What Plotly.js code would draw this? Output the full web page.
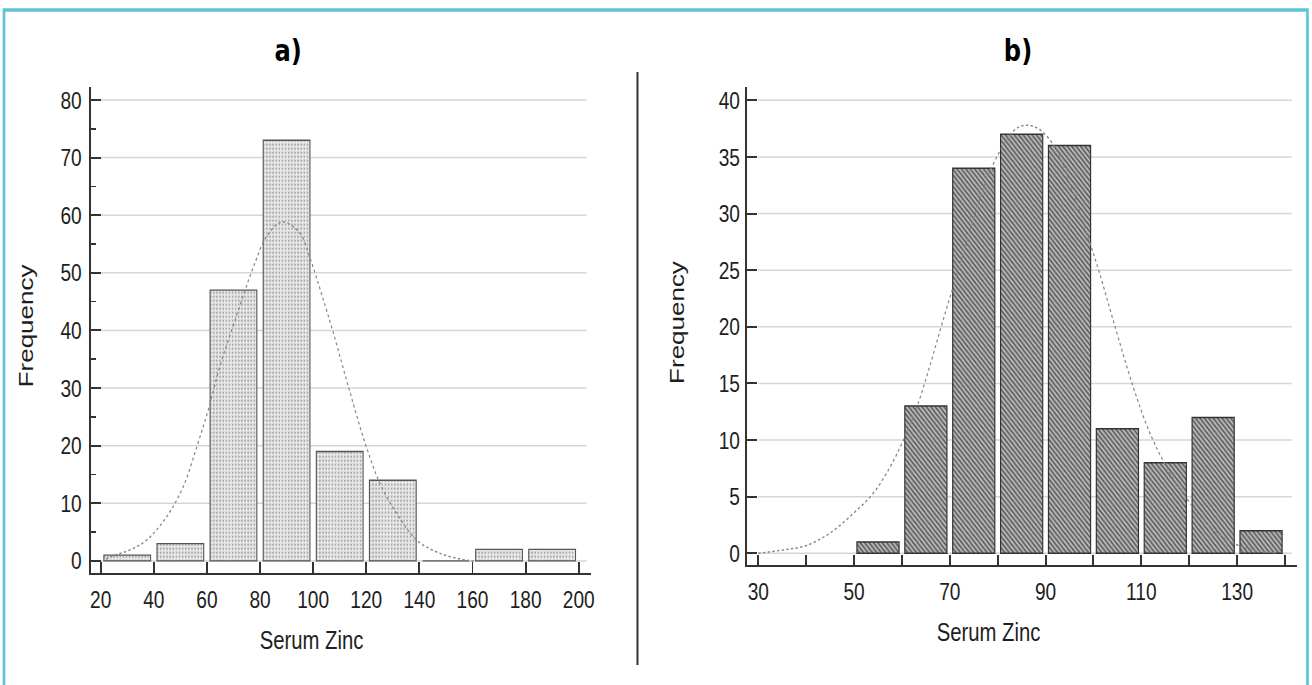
<!DOCTYPE html>
<html>
<head>
<meta charset="utf-8">
<script src="https://cdn.plot.ly/plotly-3.0.1.min.js"></script>
<style>
  html, body { margin: 0; padding: 0; background: #fff; overflow: hidden; }
  #wrap { width: 1312px; height: 685px; overflow: hidden; position: relative; }
  /* the reference figure is horizontally compressed; draw wider and compress the same way */
  #chart { position: absolute; left: 0; top: 0; transform-origin: 0 0; }
</style>
</head>
<body>
<div id="wrap"><div id="chart"></div></div>
<script>
// ---------- Data ----------
// Panel a) Serum Zinc histogram, bin width 20
var binStartA = [20, 40, 60, 80, 100, 120, 140, 160, 180];
var countsA   = [1, 3, 47, 73, 19, 14, 0, 2, 2];
var binWidthA = 20;
// fitted curve a)
var curveAx = [22, 23.5, 31, 37.3, 44.9, 51.1, 56.2, 60.5, 64.9, 69.3, 77.5, 82.5, 88.2, 95, 98.8, 103.2, 107.6, 113.3, 119.6, 125.2, 131.5, 139, 147.8, 157.9, 161];
var curveAy = [0.3, 0.7, 1.9, 3.6, 7.7, 12.9, 19.8, 26.2, 33.8, 40, 51, 56.3, 58.8, 56.9, 52.6, 46.3, 39.6, 30.2, 20.4, 13.4, 8.2, 3.6, 1.3, 0.1, 0];
var yTicksA = [0, 10, 20, 30, 40, 50, 60, 70, 80];
var xTickValsA = [20, 40, 60, 80, 100, 120, 140, 160, 180, 200];
var xTickTextA = ['20', '40', '60', '80', '100', '120', '140', '160', '180', '200'];

// Panel b) Serum Zinc histogram, bin width 10
var binStartB = [50, 60, 70, 80, 90, 100, 110, 120, 130];
var countsB   = [1, 13, 34, 37, 36, 11, 8, 12, 2];
var binWidthB = 10;
var curveBx = [30, 35.2, 40.1, 45, 49.8, 54, 57.5, 60.3, 63.1, 65.8, 68.6, 70.7, 79, 83.9, 86.4, 88.8, 90.9, 93, 95.8, 98.9, 101.3, 104.1, 108.3, 111.8, 115.3, 118.7, 124.3, 129.2, 133.3, 138];
var curveBy = [0, 0.3, 0.7, 1.8, 3.5, 5.3, 7.6, 10, 12.9, 16.5, 20.6, 23.5, 34.3, 37.5, 37.8, 37.4, 36.5, 35, 31.8, 27.9, 24.7, 20.6, 14.7, 10.6, 7.6, 5.3, 2.35, 0.9, 0.3, 0.05];
var yTicksB = [0, 5, 10, 15, 20, 25, 30, 35, 40];
var xTickValsB = [30, 40, 50, 60, 70, 80, 90, 100, 110, 120, 130, 140];
var xTickTextB = ['30', '', '50', '', '70', '', '90', '', '110', '', '130', ''];

var labels = {
  panelA: 'a)', panelB: 'b)',
  xTitle: 'Serum Zinc', yTitle: 'Frequency'
};

// ---------- Helpers ----------
var S = 0.78;               // horizontal compression of the whole figure
var W = 1312, H = 685;      // final picture size
var WP = W / S;             // plotting width before compression
var el = document.getElementById('chart');
el.style.width = WP + 'px';
el.style.height = H + 'px';
el.style.transform = 'scaleX(' + S + ')';

function px(x) { return x / W; }
function py(y) { return 1 - y / H; }
function centers(starts, w) { return starts.map(function (s) { return s + w / 2; }); }

var arial = 'Liberation Sans, Arial, Helvetica, sans-serif';
var tickFont = { family: arial, size: 24.5, color: '#1e1e1e' };
var axisColor = '#333';

var traces = [
  {
    type: 'bar', x: centers(binStartA, binWidthA), y: countsA,
    xaxis: 'x', yaxis: 'y',
    marker: {
      color: '#e4e4e4',
      line: { color: '#555', width: 1.4 },
      pattern: { shape: '.', fgcolor: '#a4a4a4', bgcolor: '#e8e8e8', size: 4, solidity: 0.25 }
    },
    hoverinfo: 'x+y', showlegend: false
  },
  {
    type: 'scatter', mode: 'lines', x: curveAx, y: curveAy,
    xaxis: 'x', yaxis: 'y',
    line: { color: '#858585', width: 1.5, dash: 'dot', shape: 'spline', smoothing: 1 },
    hoverinfo: 'skip', showlegend: false
  },
  {
    type: 'bar', x: centers(binStartB, binWidthB), y: countsB,
    xaxis: 'x2', yaxis: 'y2',
    marker: {
      color: '#9a9a9a',
      line: { color: '#333', width: 1.5 },
      pattern: { shape: '\\', fgcolor: '#555', bgcolor: '#bababa', size: 4, solidity: 0.45 }
    },
    hoverinfo: 'x+y', showlegend: false
  },
  {
    type: 'scatter', mode: 'lines', x: curveBx, y: curveBy,
    xaxis: 'x2', yaxis: 'y2',
    line: { color: '#858585', width: 1.5, dash: 'dot', shape: 'spline', smoothing: 1 },
    hoverinfo: 'skip', showlegend: false
  }
];

// gridlines as shapes (they start slightly right of the y axis in the reference)
var shapes = [];
yTicksA.forEach(function (v) {
  shapes.push({ type: 'line', xref: 'x', yref: 'y', x0: 19.7, x1: 203, y0: v, y1: v,
    line: { color: '#d6d6d6', width: 1.5 }, layer: 'below' });
});
yTicksB.forEach(function (v) {
  shapes.push({ type: 'line', xref: 'x2', yref: 'y2', x0: 30, x1: 141.4, y0: v, y1: v,
    line: { color: '#d6d6d6', width: 1.5 }, layer: 'below' });
});
// page frame (cyan) and vertical divider
shapes.push({ type: 'path', xref: 'paper', yref: 'paper',
  path: 'M ' + px(4) + ' ' + py(690) + ' L ' + px(4) + ' ' + py(10) + ' L ' + px(1307.5) + ' ' + py(10) + ' L ' + px(1307.5) + ' ' + py(690),
  line: { color: '#5cc3d9', width: 3.4 } });
shapes.push({ type: 'line', xref: 'paper', yref: 'paper', x0: px(637.5), x1: px(637.5), y0: py(72), y1: py(665),
  line: { color: '#333', width: 2.6 } });

var titleFont = { family: 'DejaVu Sans, Open Sans, sans-serif', size: 31, color: '#000', weight: 'bold' };
var annotations = [
  { text: labels.panelA, xref: 'paper', yref: 'paper', x: px(288), y: py(50), showarrow: false,
    xanchor: 'center', yanchor: 'middle', font: titleFont },
  { text: labels.panelB, xref: 'paper', yref: 'paper', x: px(1018), y: py(50), showarrow: false,
    xanchor: 'center', yanchor: 'middle', font: titleFont },
  { text: labels.xTitle, xref: 'paper', yref: 'paper', x: px(312), y: py(640), showarrow: false,
    xanchor: 'center', yanchor: 'middle', font: { family: arial, size: 26, color: '#1e1e1e' } },
  { text: labels.xTitle, xref: 'paper', yref: 'paper', x: px(989), y: py(632), showarrow: false,
    xanchor: 'center', yanchor: 'middle', font: { family: arial, size: 26, color: '#1e1e1e' } },
  { text: labels.yTitle, xref: 'paper', yref: 'paper', x: px(26), y: py(326), showarrow: false, textangle: -90,
    xanchor: 'center', yanchor: 'middle', font: { family: arial, size: 26, color: '#1e1e1e' } },
  { text: labels.yTitle, xref: 'paper', yref: 'paper', x: px(677), y: py(322), showarrow: false, textangle: -90,
    xanchor: 'center', yanchor: 'middle', font: { family: arial, size: 26, color: '#1e1e1e' } }
];

var commonX = {
  showgrid: false, zeroline: false, showline: true, linecolor: axisColor, linewidth: 2,
  ticks: 'inside', ticklen: 11, tickwidth: 2.5, tickcolor: axisColor, tickfont: tickFont,
  tickmode: 'array', fixedrange: true
};
var commonY = {
  showgrid: false, zeroline: false, showline: true, linecolor: axisColor, linewidth: 2.5,
  ticks: 'inside', ticklen: 13, tickwidth: 2, tickcolor: axisColor, tickfont: tickFont,
  tickmode: 'array', fixedrange: true
};

var layout = {
  width: WP, height: H,
  margin: { l: 0, r: 0, t: 0, b: 0 },
  paper_bgcolor: '#fff', plot_bgcolor: 'rgba(0,0,0,0)',
  bargap: 0.12,
  xaxis: Object.assign({}, commonX, {
    domain: [px(90.6), px(591.2)], range: [16.2, 204.7], anchor: 'y',
    tickvals: xTickValsA, ticktext: xTickTextA, ticklabelstandoff: 4
  }),
  yaxis: Object.assign({}, commonY, {
    domain: [py(573), py(86.7)], range: [-2.1, 82.3], anchor: 'x',
    tickvals: yTicksA, ticktext: yTicksA.map(String), ticklabelstandoff: 4,
    minor: { dtick: 5, tick0: 0, ticks: 'inside', ticklen: 7, tickwidth: 1.5, tickcolor: axisColor, showgrid: false }
  }),
  xaxis2: Object.assign({}, commonX, {
    domain: [px(747.3), px(1297)], range: [27.7, 142.5], anchor: 'y2',
    tickvals: xTickValsB, ticktext: xTickTextB, ticklen: 10, ticklabelstandoff: 4
  }),
  yaxis2: Object.assign({}, commonY, {
    domain: [py(565), py(86.7)], range: [-1.03, 41.2], anchor: 'x2',
    tickvals: yTicksB, ticktext: yTicksB.map(String), ticklabelstandoff: 2
  }),
  shapes: shapes,
  annotations: annotations
};

Plotly.newPlot('chart', traces, layout, { displayModeBar: false, staticPlot: true });
</script>
</body>
</html>
